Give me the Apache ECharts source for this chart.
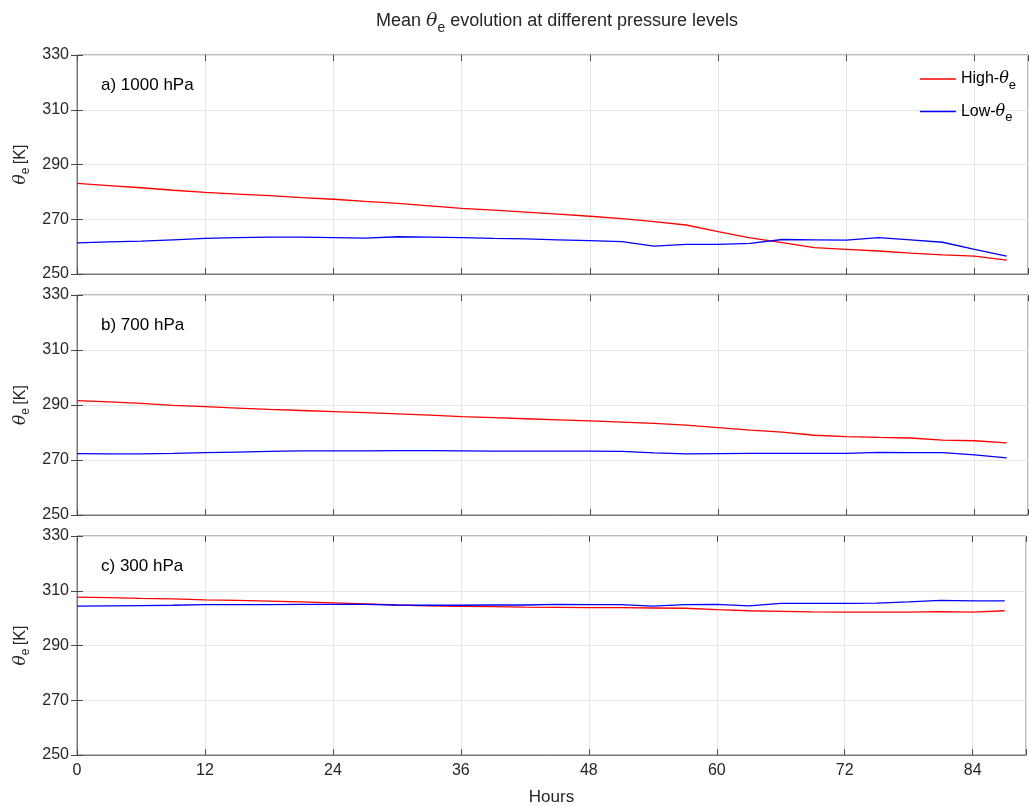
<!DOCTYPE html>
<html>
<head>
<meta charset="utf-8">
<script src="https://cdn.jsdelivr.net/npm/echarts@6/dist/echarts.min.js"></script>
<style>
html,body{margin:0;padding:0;background:#fff;}
#chart{width:1029px;height:807px;}
</style>
</head>
<body>
<div id="chart"></div>
<script>
// Hours (every 3 h)
const hours = [0,3,6,9,12,15,18,21,24,27,30,33,36,39,42,45,48,51,54,57,60,63,66,69,72,75,78,81,84,87];
const xTicks = [0,12,24,36,48,60,72,84];
const yTicks = [250,270,290,310,330];

// a) 1000 hPa
const high1000 = [283.1,282.3,281.5,280.6,279.8,279.2,278.6,277.9,277.3,276.5,275.8,274.9,274.0,273.3,272.6,271.9,271.1,270.2,269.1,267.9,265.5,263.2,261.5,259.6,259.0,258.4,257.6,257.0,256.5,255.1];
const low1000  = [261.4,261.7,262.0,262.5,263.0,263.3,263.5,263.5,263.3,263.1,263.6,263.5,263.3,263.0,262.8,262.5,262.2,261.8,260.2,260.8,260.8,261.2,262.6,262.5,262.4,263.3,262.5,261.6,259.0,256.5];
// b) 700 hPa
const high700 = [291.6,291.1,290.6,289.9,289.4,288.9,288.4,288.0,287.6,287.2,286.8,286.3,285.8,285.4,285.0,284.6,284.2,283.8,283.3,282.7,281.8,280.9,280.1,279.0,278.5,278.2,278.0,277.2,277.0,276.2];
const low700  = [272.3,272.2,272.2,272.4,272.7,272.9,273.1,273.3,273.3,273.3,273.4,273.4,273.3,273.2,273.2,273.2,273.2,273.1,272.6,272.2,272.3,272.4,272.4,272.4,272.4,272.8,272.7,272.7,271.9,270.8];
// c) 300 hPa
const high300 = [307.7,307.5,307.2,307.0,306.7,306.5,306.2,305.9,305.6,305.2,304.8,304.5,304.3,304.2,304.0,303.9,303.8,303.8,303.7,303.6,303.1,302.7,302.5,302.3,302.2,302.2,302.2,302.4,302.2,302.7];
const low300  = [304.4,304.5,304.6,304.7,304.9,304.9,304.9,305.0,305.0,305.0,304.8,304.7,304.7,304.8,304.8,305.0,304.9,304.9,304.4,304.9,305.0,304.5,305.4,305.4,305.4,305.5,305.9,306.5,306.3,306.3];

const panelLabels = ['a) 1000 hPa','b) 700 hPa','c) 300 hPa'];
const panels = [[high1000, low1000],[high700, low700],[high300, low300]];
const seriesNames = ['High-θe','Low-θe'];

const FONT = '"Liberation Sans", Arial, Helvetica, sans-serif';
const TXT = '#262626';
const gridTops = [55, 295, 536];
const gridH = [219, 220, 220];

const pairs = arr => hours.map((h,i)=>[h, arr[i]]);

const grids = gridTops.map((t,i)=>({left:77, right:1, top:t, height:gridH[i], show:true, borderColor:'#777', borderWidth:1, backgroundColor:'transparent'}));

const tickStyle = {show:true, inside:true, length:6, lineStyle:{color:'#4a4a4a'}};

const xAxes = gridTops.map((t,i)=>({
  type:'value', gridIndex:i, min:0, max:89, interval:12,
  axisLine:{show:true, lineStyle:{color:'#777', width:1}},
  axisTick:tickStyle,
  axisLabel:{show:i===2, color:TXT, fontSize:16, fontFamily:FONT, margin:8,
    formatter: v => xTicks.includes(v) ? String(v) : ''},
  splitLine:{show:true, lineStyle:{color:'#e6e6e6', width:1}},
  name: i===2 ? 'Hours' : '', nameLocation:'middle', nameGap:34,
  nameTextStyle:{color:TXT, fontSize:17, fontFamily:FONT}
}));
// mirrored top axes (box ticks)
gridTops.forEach((t,i)=>{
  xAxes.push({type:'value', gridIndex:i, position:'top', min:0, max:89, interval:12,
    axisLine:{show:false}, axisTick:tickStyle, axisLabel:{show:false}, splitLine:{show:false}});
});

const yAxes = gridTops.map((t,i)=>({
  type:'value', gridIndex:i, min:250, max:330, interval:20,
  axisLine:{show:true, lineStyle:{color:'#777', width:1}},
  axisTick:tickStyle,
  axisLabel:{color:TXT, fontSize:16, fontFamily:FONT, margin:8,
    formatter: v => yTicks.includes(v) ? String(v) : ''},
  splitLine:{show:true, lineStyle:{color:'#e6e6e6', width:1}},
  name:'{t|θ}{s|e} {k|[K]}', nameLocation:'middle', nameRotate:90, nameGap:44,
  nameTextStyle:{color:TXT, fontFamily:FONT,
    rich:{
      t:{fontSize:17, fontStyle:'italic', fontFamily:'"DejaVu Serif", serif', color:TXT},
      s:{fontSize:12, color:TXT, fontFamily:FONT, padding:[10,0,0,0], verticalAlign:'bottom'},
      k:{fontSize:16, color:TXT, fontFamily:FONT}
    }}
}));
gridTops.forEach((t,i)=>{
  yAxes.push({type:'value', gridIndex:i, position:'right', min:250, max:330, interval:20,
    axisLine:{show:false}, axisTick:tickStyle, axisLabel:{show:false}, splitLine:{show:false}});
});

const colors = ['#ff0000','#0000ff'];
const series = [];
panels.forEach((p,i)=>{
  p.forEach((arr,j)=>{
    series.push({
      name: seriesNames[j], type:'line', xAxisIndex:i, yAxisIndex:i,
      data: pairs(arr), showSymbol:false, symbol:'none', smooth:false,
      lineStyle:{color:colors[j], width:1.3}, itemStyle:{color:colors[j]},
      animation:false, z: 3
    });
  });
});

const titles = [{
  text:'Mean {t|θ}{s|e} evolution at different pressure levels',
  left:552, textAlign:'center', top:2,
  textStyle:{color:TXT, fontSize:18, fontWeight:'normal', fontFamily:FONT,
    rich:{
      t:{fontSize:19, fontStyle:'italic', fontFamily:'"DejaVu Serif", serif', color:TXT},
      s:{fontSize:14, color:TXT, fontFamily:FONT, padding:[14,0,0,0], verticalAlign:'bottom'}
    }}
}];
panelLabels.forEach((lab,i)=>{
  titles.push({text:lab, left:96, top:gridTops[i]+17,
    textStyle:{color:'#000', fontSize:17, fontWeight:'normal', fontFamily:FONT}});
});

const option = {
  backgroundColor:'#fff',
  animation:false,
  title: titles,
  grid: grids,
  xAxis: xAxes,
  yAxis: yAxes,
  legend:{
    data:seriesNames, orient:'vertical', right:8, top:66, itemGap:12,
    icon:'rect', itemWidth:36, itemHeight:1.5,
    formatter: n => n.replace('θe','{t|θ}{s|e}'),
    textStyle:{color:'#000', fontSize:16, fontFamily:FONT,
      rich:{
        t:{fontSize:16, fontStyle:'italic', fontFamily:'"DejaVu Serif", serif', color:'#000'},
        s:{fontSize:13, color:'#000', fontFamily:FONT, padding:[12,0,0,0], verticalAlign:'bottom'}
      }}
  },
  series: series
};

const chart = echarts.init(document.getElementById('chart'), null, {renderer:'canvas'});
chart.setOption(option);
</script>
</body>
</html>
